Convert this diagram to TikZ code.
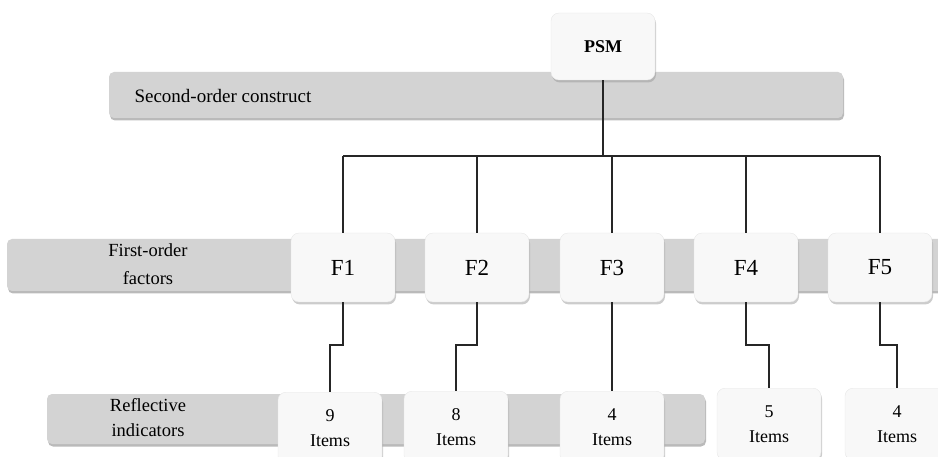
\documentclass[tikz,border=0pt]{standalone}
\usepackage{fontspec}
\setmainfont{Liberation Serif}
\usepackage{tikz}
\usetikzlibrary{shadows}
\definecolor{barfill}{RGB}{211,211,211}
\definecolor{boxfill}{RGB}{248,248,248}

\begin{document}
\begin{tikzpicture}[x=1pt,y=-1pt,
	bar/.style={fill=barfill, rounded corners=5pt, inner sep=0pt,
		drop shadow={shadow xshift=1pt, shadow yshift=-2.5pt, fill=black!45, opacity=.6}},
	box/.style={fill=boxfill, draw=gray!18, rounded corners=8pt, minimum width=104pt, inner sep=0pt, align=center,
		drop shadow={shadow xshift=1pt, shadow yshift=-2.5pt, fill=black!40, opacity=.5}},
	txt/.style={font=\fontsize{18}{25}\selectfont, align=center},
	link/.style={line width=1.4pt, draw=black!85}]
			\clip (0,0) rectangle (938,457);
			% grey bands
			\node[bar, minimum width=734pt, minimum height=46pt] (sobar) at (476,95) {};
			\node[bar, minimum width=941pt, minimum height=52pt] (fobar) at (477.5,265) {};
			\node[bar, minimum width=658pt, minimum height=50pt] (ribar) at (376,419) {};
			\node[txt, anchor=west, font=\fontsize{19}{25}\selectfont] (sotxt) at (131,96) {Second-order construct};
			\node[txt, font=\fontsize{18.5}{28}\selectfont] (fotxt) at (148,264) {First-order\\factors};
			\node[txt, font=\fontsize{18.5}{25}\selectfont] (ritxt) at (148,418) {Reflective\\indicators};
			% construct and factors
			\node[box, minimum height=67pt, font=\fontsize{18}{22}\selectfont\bfseries] (psm) at (603,46.5) {PSM};
			\node[box, minimum height=69pt, font=\fontsize{23}{26}\selectfont] (f1) at (343,267.5) {F1};
			\node[box, minimum height=69pt, font=\fontsize{23}{26}\selectfont] (f2) at (477,267.5) {F2};
			\node[box, minimum height=69pt, font=\fontsize{23}{26}\selectfont] (f3) at (612,267.5) {F3};
			\node[box, minimum height=69pt, font=\fontsize{23}{26}\selectfont] (f4) at (746,267.5) {F4};
			\node[box, minimum height=69pt, font=\fontsize{23}{26}\selectfont] (f5) at (880,267.5) {F5};
			% items
			\node[box, txt, minimum height=72pt, anchor=north] (i1) at (330,392) {9\\Items};
			\node[box, txt, minimum height=72pt, anchor=north] (i2) at (456,391) {8\\Items};
			\node[box, txt, minimum height=72pt, anchor=north] (i3) at (612,391) {4\\Items};
			\node[box, txt, minimum height=72pt, anchor=north] (i4) at (769,388) {5\\Items};
			\node[box, txt, minimum height=72pt, anchor=north] (i5) at (897,388) {4\\Items};
			% connectors
			\coordinate (bus) at (603,156);
			\coordinate (jog) at (0,345);
			\draw[link] (psm.south) -- (bus);
			\draw[link] (f1.north |- bus) -- (f5.north |- bus);
			\foreach \f in {f1,f2,f3,f4,f5}
				\draw[link] (\f.north |- bus) -- (\f.north);
			\foreach \f/\i in {f1/i1,f2/i2,f3/i3,f4/i4,f5/i5}
				\draw[link] (\f.south) -- (\f.south |- jog) -| (\i.north);
		\end{tikzpicture}
\end{document}
